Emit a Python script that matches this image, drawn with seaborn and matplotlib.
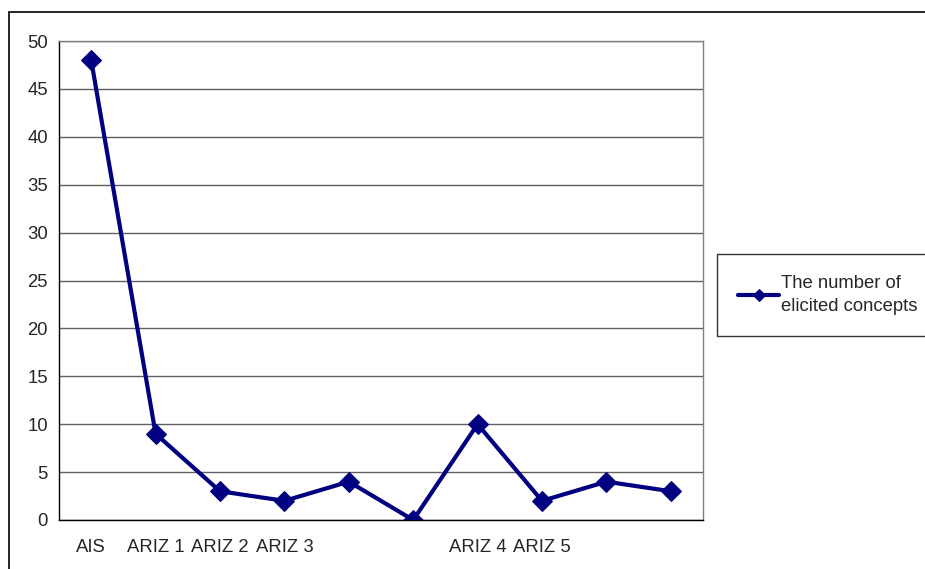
import numpy as np
import pandas as pd
import matplotlib.pyplot as plt
import matplotlib.patches as mpatches
import seaborn as sns

# -----------------------------
# Data
# -----------------------------
categories = ["AIS", "ARIZ 1", "ARIZ 2", "ARIZ 3", "", "", "ARIZ 4", "ARIZ 5", "", ""]
concepts = [48, 9, 3, 2, 4, 0, 10, 2, 4, 3]
y_ticks = [0, 5, 10, 15, 20, 25, 30, 35, 40, 45, 50]
series_name = "The number of\nelicited concepts"

df = pd.DataFrame({"pos": np.arange(len(categories)), "value": concepts})

# -----------------------------
# Plot
# -----------------------------
sns.set_style("white")
plt.rcParams["font.family"] = ["Liberation Sans", "DejaVu Sans"]
FS = 13.3

fig = plt.figure(figsize=(9.25, 5.69), dpi=100)
ax = fig.add_axes([59 / 925, 1 - 520 / 569, (703 - 59) / 925, (520 - 41) / 569])

sns.lineplot(data=df, x="pos", y="value", ax=ax, color="#000080", linewidth=3,
             marker="D", markersize=10.5, markeredgecolor="#000080", label=series_name)

ax.set_xlim(-0.5, len(categories) - 0.5)
ax.set_ylim(0, 50)
ax.set_yticks(y_ticks)
ax.set_yticklabels([str(t) for t in y_ticks], fontsize=FS)

# tick marks on category borders, labels in the middle
ax.set_xticks(np.arange(len(categories) + 1) - 0.5)
ax.set_xticklabels([])
ax.set_xticks(np.arange(len(categories)), minor=True)
ax.set_xticklabels(categories, minor=True, fontsize=FS)
ax.tick_params(axis="x", which="major", direction="out", length=5, width=1, color="black")
ax.tick_params(axis="x", which="minor", length=0, pad=14)
ax.tick_params(axis="y", direction="out", length=5, width=1, color="black", pad=3)

ax.yaxis.grid(True, color="#606060", linewidth=1)
ax.set_axisbelow(True)
ax.set_xlabel("")
ax.set_ylabel("")

for side in ["left", "bottom"]:
    ax.spines[side].set_color("black")
    ax.spines[side].set_linewidth(1)
for side in ["top", "right"]:
    ax.spines[side].set_color("#808080")
    ax.spines[side].set_linewidth(1)

leg = ax.legend(loc="upper left", bbox_to_anchor=(717 / 925, 1 - 254 / 569),
                bbox_transform=fig.transFigure, frameon=True, fancybox=False,
                fontsize=FS, handlelength=2.2, markerscale=0.6, borderpad=1.15,
                handletextpad=0.1, borderaxespad=0)
leg.get_texts()[0].set_linespacing(1.45)
leg.get_frame().set_edgecolor("black")
leg.get_frame().set_linewidth(1)

# outer chart border (cut off at the right and bottom)
fig.patches.append(mpatches.Rectangle((9 / 925, -0.1), 1.2, 1 - 12 / 569 + 0.1,
                                      transform=fig.transFigure, fill=False,
                                      edgecolor="black", linewidth=1.2))

fig.savefig("out.png", dpi=100)
